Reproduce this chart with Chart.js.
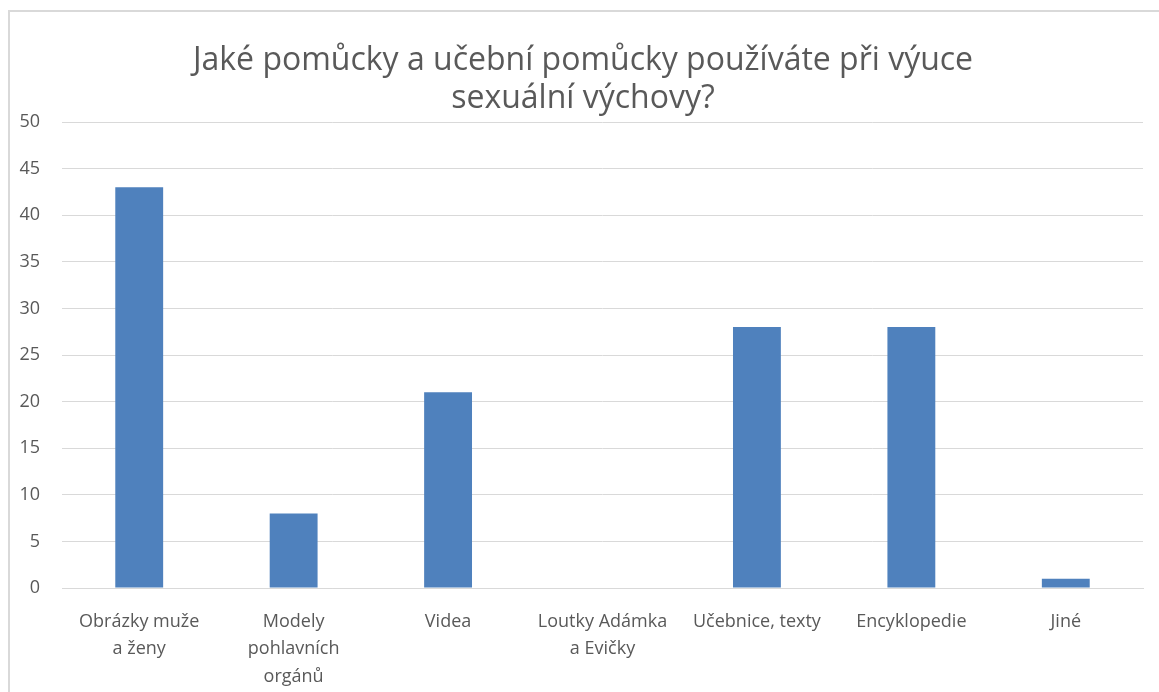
<!DOCTYPE html>
<html>
<head>
<meta charset="utf-8">
<script src="https://cdn.jsdelivr.net/npm/chart.js@4"></script>
<style>
html,body{margin:0;padding:0;background:#fff;}
#wrap{position:relative;width:1159px;height:692px;}
#frame{position:absolute;left:8px;top:10px;width:1200px;height:800px;border:2px solid #d9d9d9;pointer-events:none;box-sizing:border-box;}
canvas{position:absolute;left:0;top:0;}
</style>
</head>
<body>
<div id="wrap">
<canvas id="c" width="1159" height="692"></canvas>
<div id="frame"></div>
</div>
<script>
const categories = [
  ["Obrázky muže", "a ženy"],
  ["Modely", "pohlavních", "orgánů"],
  ["Videa"],
  ["Loutky Adámka", "a Evičky"],
  ["Učebnice, texty"],
  ["Encyklopedie"],
  ["Jiné"]
];
const values = [43, 8, 21, 0, 28, 28, 1];
const titleLines = ["Jaké pomůcky a učební pomůcky používáte při výuce", "sexuální výchovy?"];
const yMin = 0, yMax = 50, yStep = 5;

const FONT = "'Open Sans', sans-serif";
const TXT = "#595959";

const titlePlugin = {
  id: 'customTitle',
  afterDraw(chart) {
    const ctx = chart.ctx;
    ctx.save();
    ctx.fillStyle = TXT;
    ctx.font = "32px " + FONT;
    ctx.textAlign = 'center';
    ctx.textBaseline = 'alphabetic';
    titleLines.forEach((t, i) => ctx.fillText(t, 583, 70 + i * 38));
    ctx.restore();
  }
};

new Chart(document.getElementById('c'), {
  type: 'bar',
  data: {
    labels: categories,
    datasets: [{
      data: values,
      backgroundColor: '#4F81BD',
      borderWidth: 0,
      categoryPercentage: 1.0,
      barPercentage: 0.31
    }]
  },
  plugins: [titlePlugin],
  options: {
    responsive: false,
    animation: false,
    layout: { padding: { left: 0, right: 16, top: 122, bottom: 0 } },
    plugins: {
      legend: { display: false },
      tooltip: { enabled: false },
      title: { display: false }
    },
    scales: {
      x: {
        grid: { display: false, drawTicks: false },
        border: { display: true, color: '#d9d9d9', width: 1 },
        ticks: {
          color: TXT,
          font: { family: FONT, size: 18, lineHeight: 1.53 },
          autoSkip: false,
          maxRotation: 0,
          minRotation: 0,
          padding: 20
        },
        afterFit(scale) { scale.height = 104; }
      },
      y: {
        min: yMin, max: yMax,
        grid: { color: '#d9d9d9', drawTicks: false, lineWidth: 1 },
        border: { display: false },
        ticks: {
          stepSize: yStep,
          color: TXT,
          font: { family: FONT, size: 18 },
          padding: 22
        },
        afterFit(scale) { scale.width = 62; }
      }
    }
  }
});
</script>
</body>
</html>
